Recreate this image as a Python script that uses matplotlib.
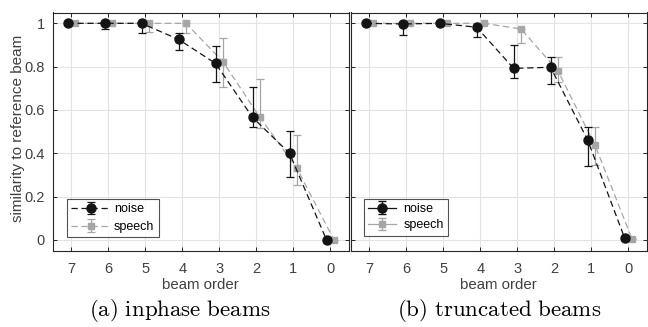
import numpy as np
import matplotlib
matplotlib.use("Agg")
import matplotlib.pyplot as plt

plt.rcParams['font.family'] = ['Liberation Sans', 'DejaVu Sans']
plt.rcParams['mathtext.fontset'] = 'cm'

beam_order = [7, 6, 5, 4, 3, 2, 1, 0]
xtick_labels = ['7', '6', '5', '4', '3', '2', '1', '0']
yticks = [0, 0.2, 0.4, 0.6, 0.8, 1.0]
ytick_labels = ['0', '0.2', '0.4', '0.6', '0.8', '1']

# (a) inphase beams
in_noise = [1.0, 1.0, 1.0, 0.926, 0.815, 0.566, 0.40, 0.0]
in_noise_lo = [0.0, 0.028, 0.043, 0.05, 0.085, 0.043, 0.108, 0.0]
in_noise_hi = [0.0, 0.0, 0.0, 0.03, 0.082, 0.14, 0.103, 0.0]
in_speech = [1.0, 1.0, 1.0, 1.0, 0.823, 0.566, 0.331, 0.0]
in_speech_lo = [0.0, 0.0, 0.04, 0.046, 0.118, 0.051, 0.077, 0.0]
in_speech_hi = [0.0, 0.0, 0.0, 0.0, 0.107, 0.177, 0.151, 0.0]

# (b) truncated beams
tr_noise = [1.0, 0.997, 1.0, 0.982, 0.792, 0.797, 0.462, 0.01]
tr_noise_lo = [0.0, 0.051, 0.0, 0.045, 0.046, 0.079, 0.121, 0.0]
tr_noise_hi = [0.0, 0.0, 0.0, 0.0, 0.108, 0.049, 0.061, 0.0]
tr_speech = [1.0, 1.0, 1.0, 1.0, 0.974, 0.78, 0.438, 0.005]
tr_speech_lo = [0.0, 0.0, 0.0, 0.0, 0.064, 0.05, 0.092, 0.0]
tr_speech_hi = [0.0, 0.0, 0.0, 0.0, 0.0, 0.063, 0.082, 0.0]

series_labels = ['noise', 'speech']
captions = ['(a) inphase beams', '(b) truncated beams']

noise_color = '#141414'
speech_color = '#a6a6a6'
axis_color = '#262626'
text_color = '#404040'

fig = plt.figure(figsize=(6.48, 3.27), dpi=100)
ax1 = fig.add_axes([52.7 / 648, 1 - 250.7 / 327, (348.7 - 52.7) / 648, (250.7 - 12.5) / 327])
ax2 = fig.add_axes([351.0 / 648, 1 - 250.7 / 327, (646.7 - 351.0) / 648, (250.7 - 12.5) / 327])

off = 0.1
x = np.array(beam_order, dtype=float)

def draw(ax, n, nlo, nhi, s, slo, shi):
    en = ax.errorbar(x + off, n, yerr=[nlo, nhi], fmt='o', ls=(0, (5, 3)), color=noise_color,
                     ecolor=noise_color, elinewidth=0.9, capsize=2.6, capthick=0.9,
                     markersize=6.5, lw=0.9, zorder=4)
    es = ax.errorbar(x - off, s, yerr=[slo, shi], fmt='s', ls=(0, (5, 3)), color=speech_color,
                     ecolor=speech_color, elinewidth=0.9, capsize=2.6, capthick=0.9,
                     markersize=5, lw=0.9, zorder=3)
    ax.set_xlim(7.5, -0.5)
    ax.set_ylim(-0.05, 1.05)
    ax.set_xticks(beam_order)
    ax.set_xticklabels(xtick_labels)
    ax.set_yticks(yticks)
    ax.grid(True, color='#e3e3e3', lw=0.8, zorder=0)
    ax.set_axisbelow(True)
    for sp in ax.spines.values():
        sp.set_color(axis_color)
        sp.set_linewidth(0.8)
    ax.tick_params(direction='in', length=3, width=0.7, color=axis_color,
                   labelcolor=text_color, labelsize=10.5, top=True, right=True)
    ax.tick_params(axis='x', pad=8)
    ax.tick_params(axis='y', pad=5.5)
    ax.set_xlabel('beam order', fontsize=10.8, color=text_color, labelpad=1.5)
    return en, es

en1, es1 = draw(ax1, in_noise, in_noise_lo, in_noise_hi, in_speech, in_speech_lo, in_speech_hi)
ax1.set_yticklabels(ytick_labels)
fig.text(18 / 648, 1 - 128 / 327, 'similarity to reference beam', rotation=90,
         ha='center', va='center', fontsize=11, color=text_color)
leg1 = ax1.legend([en1, es1], series_labels, loc='lower left', bbox_to_anchor=(0.047, 0.056),
                  fontsize=9, frameon=True, fancybox=False, edgecolor=axis_color,
                  handlelength=3.2, handletextpad=0.25, borderpad=0.35, labelspacing=0.45,
                  borderaxespad=0)
leg1.get_frame().set_linewidth(0.8)

en2, es2 = draw(ax2, tr_noise, tr_noise_lo, tr_noise_hi, tr_speech, tr_speech_lo, tr_speech_hi)
ax2.set_yticklabels([])
# legend proxies with solid lines (as in reference)
pn = ax2.errorbar([np.nan], [np.nan], yerr=[[0.0], [0.0]], fmt='o-', color=noise_color,
                  ecolor=noise_color, capsize=2.6, markersize=6.5, lw=0.9)
ps = ax2.errorbar([np.nan], [np.nan], yerr=[[0.0], [0.0]], fmt='s-', color=speech_color,
                  ecolor=speech_color, capsize=2.6, markersize=5, lw=0.9)
leg2 = ax2.legend([pn, ps], series_labels, loc='lower left', bbox_to_anchor=(0.044, 0.063),
                  fontsize=9, frameon=True, fancybox=False, edgecolor=axis_color,
                  handlelength=2.2, handletextpad=0.6, borderpad=0.35, labelspacing=0.35,
                  borderaxespad=0)
leg2.get_frame().set_linewidth(0.8)

fig.text(180 / 648, 1 - 310 / 327, r'$\mathrm{' + captions[0].replace(' ', r'\ ') + '}$',
         ha='center', va='center', fontsize=16.5)
fig.text(499 / 648, 1 - 310 / 327, r'$\mathrm{' + captions[1].replace(' ', r'\ ') + '}$',
         ha='center', va='center', fontsize=16.5)

fig.savefig('out.png', dpi=100)
